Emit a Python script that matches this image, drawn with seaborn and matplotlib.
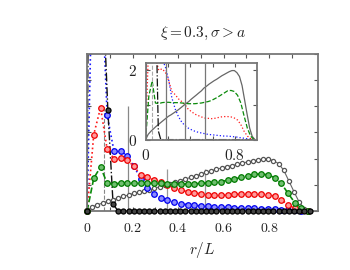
import numpy as np
import pandas as pd
import seaborn as sns
import matplotlib.pyplot as plt

sns.set_theme(style="ticks")
plt.rcParams['font.family'] = ['DejaVu Serif']
plt.rcParams['mathtext.fontset'] = 'cm'

# coarse grid (coloured series)
r_coarse = [0.0, 0.029, 0.059, 0.088, 0.118, 0.147, 0.176, 0.206, 0.235, 0.265,
            0.294, 0.324, 0.353, 0.382, 0.412, 0.441, 0.471, 0.5, 0.529, 0.559,
            0.588, 0.618, 0.647, 0.676, 0.706, 0.735, 0.765, 0.794, 0.824, 0.853,
            0.882, 0.912, 0.941, 0.971]
red = [0.0, 2.92, 3.95, 2.35, 1.99, 2.03, 1.94, 1.70, 1.38, 1.29,
       1.17, 1.09, 1.00, 0.87, 0.80, 0.73, 0.69, 0.65, 0.62, 0.61,
       0.60, 0.61, 0.63, 0.65, 0.66, 0.66, 0.65, 0.62, 0.56, 0.43,
       0.24, 0.10, 0.03, 0.0]
green = [0.0, 1.25, 1.68, 1.05, 1.03, 1.06, 1.07, 1.07, 1.06, 1.06,
         1.06, 1.05, 1.04, 1.03, 1.03, 1.03, 1.04, 1.05, 1.07, 1.09,
         1.12, 1.17, 1.22, 1.28, 1.34, 1.40, 1.41, 1.38, 1.27, 1.05,
         0.68, 0.32, 0.10, 0.0]
blue = [0.0, 12.0, 9.7, 3.65, 2.28, 2.30, 2.10, 1.72, 1.20, 0.88,
        0.66, 0.50, 0.40, 0.33, 0.28, 0.24, 0.21, 0.19, 0.17, 0.15,
        0.14, 0.13, 0.12, 0.11, 0.10, 0.10, 0.09, 0.08, 0.07, 0.05,
        0.04, 0.02, 0.01, 0.0]

# fine grid (black series)
r_fine = [0.0, 0.023, 0.045, 0.068, 0.091, 0.114, 0.136, 0.159, 0.182, 0.205,
          0.227, 0.25, 0.273, 0.295, 0.318, 0.341, 0.364, 0.386, 0.409, 0.432,
          0.455, 0.477, 0.5, 0.523, 0.545, 0.568, 0.591, 0.614, 0.636, 0.659,
          0.682, 0.705, 0.727, 0.75, 0.773, 0.795, 0.818, 0.841, 0.864, 0.886,
          0.909, 0.932, 0.955, 0.977]
gray = [0.0, 0.15, 0.23, 0.30, 0.37, 0.43, 0.49, 0.55, 0.61, 0.67,
        0.71, 0.76, 0.81, 0.86, 0.92, 0.98, 1.04, 1.09, 1.16, 1.22,
        1.28, 1.34, 1.40, 1.48, 1.53, 1.59, 1.64, 1.69, 1.73, 1.78,
        1.83, 1.87, 1.91, 1.95, 1.98, 1.98, 1.92, 1.81, 1.55, 1.15,
        0.73, 0.33, 0.09, 0.01]
black = [0.0, 40.0, 20.0, 8.7, 3.86, 0.25, 0.0, 0.0, 0.0, 0.0,
         0.0, 0.0, 0.0, 0.0, 0.0, 0.0, 0.0, 0.0, 0.0, 0.0,
         0.0, 0.0, 0.0, 0.0, 0.0, 0.0, 0.0, 0.0, 0.0, 0.0,
         0.0, 0.0, 0.0, 0.0, 0.0, 0.0, 0.0, 0.0, 0.0, 0.0,
         0.0, 0.0, 0.0, 0.0]

series = [
    # x, y, line colour, linestyle, marker edge, marker face, marker size, lw
    (r_fine, gray, '#666666', '-', '#555555', 'white', 3.0, 0.8),
    (r_coarse, blue, '#1a1aff', ':', '#0000ee', '#8c8cff', 4.0, 1.2),
    (r_coarse, red, '#ff1a1a', ':', '#ee0000', '#ff9a9a', 4.0, 1.2),
    (r_coarse, green, '#0a8a0a', '--', '#007a00', '#6fbf6f', 4.0, 1.2),
    (r_fine, black, '#111111', '-.', '#000000', '#444444', 3.6, 1.0),
]

fig = plt.figure(figsize=(3.5, 2.7), dpi=100)
ax = fig.add_axes([0.249, 0.219, 0.66, 0.581])
axin = fig.add_axes([0.416, 0.483, 0.319, 0.284])

for xs, ys, lc, ls, mec, mfc, ms, lw in series:
    df = pd.DataFrame({'r': xs, 'g': ys})
    sns.lineplot(data=df, x='r', y='g', ax=ax, color=lc, linestyle=ls,
                 lw=lw, estimator=None, sort=False, zorder=2)
    vis = df[df['g'] <= 6]
    ax.plot(vis['r'], vis['g'], linestyle='none', marker='o', ms=ms,
            mec=mec, mfc=mfc, mew=0.9, clip_on=False, zorder=3)
    sns.lineplot(data=df, x='r', y='g', ax=axin, color=lc, linestyle=ls,
                 lw=0.9, estimator=None, sort=False)

# reference lines
ax.vlines([0.072], 0, 4, colors='#888888', linestyles='--', lw=0.8, zorder=1)
ax.vlines([0.178], 0, 4, colors='#888888', lw=0.9, zorder=1)
ax.vlines([0.349, 0.52], 0, 1.6, colors='#999999', lw=0.9, zorder=1)
axin.vlines([0.056], 0, 2.2, colors='#aaaaaa', linestyles='--', lw=0.8)
axin.vlines([0.182, 0.35, 0.53], 0, 2.2, colors='#777777', lw=0.9)

ax.set_xlim(0, 1.015)
ax.set_ylim(0, 6)
ax.set_xticks([0, 0.2, 0.4, 0.6, 0.8])
ax.set_xticklabels(['$0$', '$0.2$', '$0.4$', '$0.6$', '$0.8$'])
ax.set_xticks([0.1, 0.3, 0.5, 0.7, 0.9], minor=True)
ax.set_yticks([0, 1, 2, 3, 4, 5, 6])
ax.set_yticklabels([])
ax.tick_params(direction='in', top=True, right=True, length=3, width=0.8,
               colors='#555555', labelcolor='#222222', labelsize=10, pad=7)
ax.tick_params(which='minor', direction='in', top=True, length=3, width=0.8,
               colors='#555555')
ax.set_xlabel('$r/L$', fontsize=11, color='#222222', labelpad=4)
ax.set_ylabel('')
ax.set_title(r'$\xi = 0.3, \sigma > a$', fontsize=11, color='#222222', pad=12)

axin.set_xlim(0, 1.0)
axin.set_ylim(0, 2.2)
axin.set_xticks([0, 0.2, 0.4, 0.6, 0.8])
axin.set_xticklabels(['$0$', '', '', '', '$0.8$'])
axin.set_yticks([0, 1, 2])
axin.set_yticklabels(['$0$', '', '$2$'])
axin.tick_params(direction='in', top=True, right=True, length=3, width=0.8,
                 colors='#555555', labelcolor='#222222', labelsize=11, pad=6)
axin.set_xlabel('')
axin.set_ylabel('')

for a in (ax, axin):
    for s in a.spines.values():
        s.set_color('#777777')
        s.set_linewidth(1.3)

fig.savefig('out.png', dpi=100)
